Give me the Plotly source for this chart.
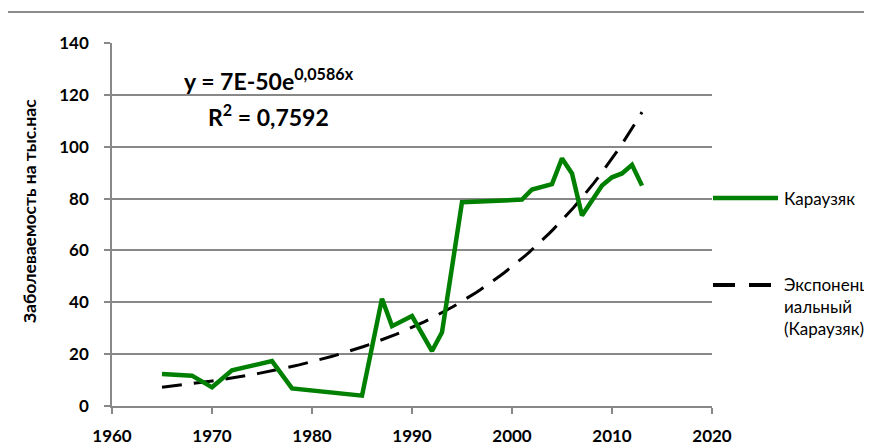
import numpy as np
import plotly.graph_objects as go

years = [1965, 1968, 1970, 1972, 1976, 1978, 1985, 1987, 1988, 1990, 1992, 1993,
         1995, 2001, 2002, 2003, 2004, 2005, 2006, 2007, 2008, 2009, 2010, 2011,
         2012, 2013]
values = [12.3, 11.7, 7.2, 13.8, 17.3, 6.8, 4.0, 41.4, 30.8, 34.7, 21.2, 28.4,
          78.6, 79.6, 83.5, 84.6, 85.6, 95.5, 89.7, 73.5, 79.3, 85.0, 88.2, 89.7,
          93.0, 85.0]
series_name = "Караузяк"
trend_name = "Экспоненц<br>иальный<br>(Караузяк)"
eq_text = "y = 7E-50e<sup>0,0586x</sup>"
r2_text = "R<sup>2</sup> = 0,7592"
y_title = "Заболеваемость на тыс.нас"
x_ticks = [1960, 1970, 1980, 1990, 2000, 2010, 2020]
y_ticks = [0, 20, 40, 60, 80, 100, 120, 140]

GREEN = "#008000"
GRID = "#888888"
FONT = "Lato"

# exponential trend fitted to the data (as Excel does: log-linear least squares)
xa = np.array(years, dtype=float)
ya = np.array(values, dtype=float)
b, ln_a = np.polyfit(xa, np.log(ya), 1)
xt = np.linspace(xa.min(), xa.max(), 120)
yt = np.exp(ln_a + b * xt)

fig = go.Figure()
fig.add_trace(go.Scatter(x=xt, y=yt, mode="lines", name="trend",
                         line=dict(color="black", width=3, dash="20px,12px"),
                         showlegend=False))
fig.add_trace(go.Scatter(x=years, y=values, mode="lines", name=series_name,
                         line=dict(color=GREEN, width=4.5), showlegend=False))

OFF = 8  # page body margin
W, H = 872 - OFF, 445 - OFF
L, T = 112 - OFF, 43 - OFF
pw, ph = 600, 363
R = W - L - pw
B = H - T - ph


def px(xp):  # page pixel -> paper
    return (xp - OFF - L) / pw


def py(yp):
    return (H - B - (yp - OFF)) / ph


shapes = [
    # outer chart frame
    dict(type="rect", xref="paper", yref="paper", x0=px(7), x1=px(890),
         y0=py(470), y1=py(12), line=dict(color="#8c8c8c", width=2),
         fillcolor="rgba(0,0,0,0)", layer="below"),
    # legend samples
    dict(type="line", xref="paper", yref="paper", x0=px(713), x1=px(778),
         y0=py(198), y1=py(198), line=dict(color=GREEN, width=4.5)),
    dict(type="line", xref="paper", yref="paper", x0=px(713), x1=px(772),
         y0=py(285), y1=py(285), line=dict(color="black", width=4, dash="22px,14px")),
]

annotations = [
    dict(x=px(782), y=py(198), xref="paper", yref="paper", text=series_name,
         showarrow=False, xanchor="left", yanchor="middle",
         font=dict(family=FONT, size=17, color="black")),
    dict(x=px(782), y=py(272), xref="paper", yref="paper", text=trend_name,
         showarrow=False, xanchor="left", yanchor="top", align="left",
         font=dict(family=FONT, size=17, color="black")),
    dict(x=px(269), y=py(79), xref="paper", yref="paper", text=eq_text,
         showarrow=False, xanchor="center", yanchor="middle",
         font=dict(family=FONT, size=23, color="black", weight="bold")),
    dict(x=px(268), y=py(115), xref="paper", yref="paper", text=r2_text,
         showarrow=False, xanchor="center", yanchor="middle",
         font=dict(family=FONT, size=23, color="black", weight="bold")),
    dict(x=px(29), y=py(211), xref="paper", yref="paper", text=y_title,
         showarrow=False, xanchor="center", yanchor="middle", textangle=-90,
         font=dict(family=FONT, size=17.5, color="black", weight="bold")),
]

fig.update_layout(
    width=W, height=H,
    margin=dict(l=L, r=R, t=T, b=B, pad=0, autoexpand=False),
    paper_bgcolor="white", plot_bgcolor="white",
    shapes=shapes, annotations=annotations,
    showlegend=False,
    font=dict(family=FONT, size=17, color="black"),
)
fig.update_xaxes(range=[1960, 2020], tickvals=x_ticks,
                 ticktext=[str(v) for v in x_ticks], automargin=False,
                 showgrid=False, zeroline=False,
                 showline=True, linecolor=GRID, linewidth=1.5,
                 ticks="outside", ticklen=6, tickcolor=GRID, tickwidth=1.5,
                 ticklabelstandoff=8,
                 tickfont=dict(family=FONT, size=17, color="black", weight="bold"))
fig.update_yaxes(range=[0, 140], tickvals=y_ticks,
                 ticktext=[str(v) for v in y_ticks], automargin=False,
                 showgrid=True, gridcolor=GRID, gridwidth=1.5, zeroline=False,
                 showline=True, linecolor=GRID, linewidth=1.5,
                 ticks="outside", ticklen=6, tickcolor=GRID, tickwidth=1.5,
                 ticklabelstandoff=12,
                 tickfont=dict(family=FONT, size=17, color="black", weight="bold"))

fig.write_html("out.html")
